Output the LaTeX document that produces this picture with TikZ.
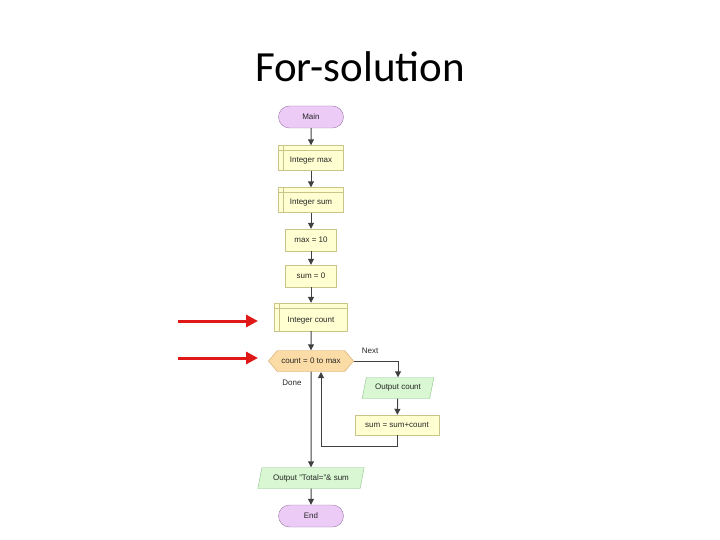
\documentclass[tikz,border=0pt]{standalone}
\usepackage{fontspec}
\setmainfont{Liberation Sans}
\newfontfamily\titlefont{Carlito}
\usetikzlibrary{arrows.meta,shapes.geometric,shapes.symbols,shapes.misc}
\definecolor{termfill}{HTML}{EDCBF7}
\definecolor{termdraw}{HTML}{9A7AA8}
\definecolor{boxfill}{HTML}{FFFFD2}
\definecolor{boxdraw}{HTML}{C9C48A}
\definecolor{hexfill}{HTML}{FCDCA6}
\definecolor{hexdraw}{HTML}{D2A464}
\definecolor{iofill}{HTML}{D8F7D2}
\definecolor{iodraw}{HTML}{8CC08C}
\definecolor{conn}{HTML}{404040}
\definecolor{redarrow}{HTML}{E01818}
\newcommand{\lowtext}[1]{\raisebox{-5pt}[0pt][0pt]{#1}}
\tikzset{
  x=1pt,y=-1pt,
  every node/.style={font=\fontsize{8}{9}\selectfont, text=black!85},
  term/.style={rounded rectangle, draw=termdraw, fill=termfill, minimum width=65pt, minimum height=22pt, inner sep=0pt},
  procbox/.style={rectangle, draw=boxdraw, fill=boxfill, inner sep=0pt},
  hexnode/.style={signal, signal to=east and west, signal pointer angle=100, draw=hexdraw, fill=hexfill, minimum width=85pt, minimum height=21pt, inner sep=0pt},
  ionode/.style={trapezium, trapezium left angle=67, trapezium right angle=113, trapezium stretches=true, draw=iodraw, fill=iofill, inner sep=0pt},
  conn/.style={draw=conn, line width=1pt, -{Triangle[length=6pt,width=6pt]}},
  redarr/.style={draw=redarrow, line width=3pt, -{Triangle[length=12pt,width=12pt]}},
  inner/.style={draw=boxdraw, line width=0.5pt}
}
\begin{document}
\begin{tikzpicture}
\useasboundingbox (0,0) rectangle (720,540);
\node[font=\titlefont\fontsize{43}{45}\selectfont, text=black] (title) at (360,67) {For-solution};

\node[term] (main) at (311,117) {Main};
\node[procbox, minimum width=65pt, minimum height=25pt] (imax) at (311,158) {\lowtext{Integer max}};
\node[procbox, minimum width=65pt, minimum height=25pt] (isum) at (311,200) {\lowtext{Integer sum}};
\node[procbox, minimum width=51pt, minimum height=22pt] (max10) at (311,240) {max = 10};
\node[procbox, minimum width=51pt, minimum height=22pt] (sum0) at (311,276) {sum = 0};
\node[procbox, minimum width=73pt, minimum height=28pt] (icount) at (311,317) {\lowtext{Integer count}};
\node[hexnode] (loop) at (311,361) {count = 0 to max};
\node[ionode, minimum width=72pt, minimum height=21pt] (outc) at (398,388) {Output count};
\node[procbox, minimum width=84pt, minimum height=20pt] (sumc) at (397,425) {sum = sum+count};
\node[ionode, minimum width=107pt, minimum height=21pt] (outt) at (311,478) {Output "Total="\& sum};
\node[term] (endn) at (311,516) {End};

\node (next) at (370,351) {Next};
\node (done) at (292,383) {Done};

% inner lines of declaration boxes
\foreach \n in {imax,isum,icount}{
  \draw[inner] ([yshift=-5pt]\n.north west) -- ([yshift=-5pt]\n.north east);
  \draw[inner] ([xshift=5pt]\n.north west) -- ([xshift=5pt]\n.south west);
}

\draw[conn] (main) -- (imax);
\draw[conn] (imax) -- (isum);
\draw[conn] (isum) -- (max10);
\draw[conn] (max10) -- (sum0);
\draw[conn] (sum0) -- (icount);
\draw[conn] (icount) -- (loop);
\draw[conn] (loop.east) -| (outc.north);
\draw[conn] (outc) -- (sumc);
\coordinate (back) at (321,372);
\draw[conn] (sumc.south) -- ++(0,11) -| (back);
\draw[conn] (loop.south) -- (outt.north);
\draw[conn] (outt) -- (endn);

\coordinate (r1s) at (178,321);
\coordinate (r2s) at (178,358);
\draw[redarr] (r1s) -- (258,321);
\draw[redarr] (r2s) -- (258,358);
\end{tikzpicture}
\end{document}
